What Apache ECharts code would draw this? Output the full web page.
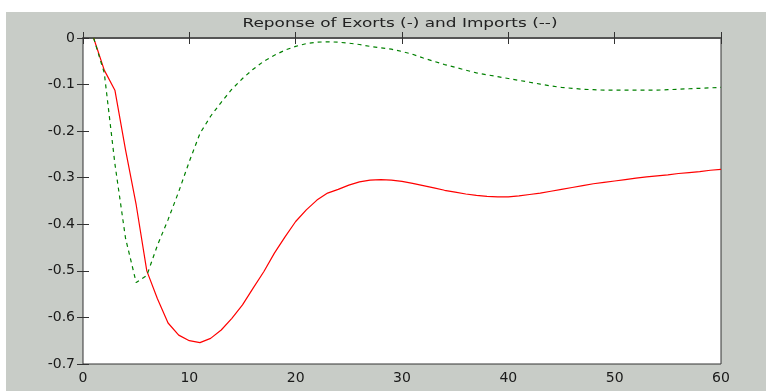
<!DOCTYPE html>
<html>
<head>
<meta charset="utf-8">
<script src="https://cdn.jsdelivr.net/npm/echarts@6/dist/echarts.min.js"></script>
<style>
  html, body { margin: 0; padding: 0; background: #fff; }
  #chart { width: 766px; height: 391px; }
</style>
</head>
<body>
<div id="chart"></div>
<script>
// horizon (periods)
const periods = [];
for (let i = 1; i <= 60; i++) periods.push(i);

// response of exports (solid red)
const exportsResp = [
  0, -0.069, -0.112, -0.240, -0.358, -0.500, -0.560, -0.612, -0.638, -0.650,
  -0.654, -0.645, -0.627, -0.602, -0.573, -0.537, -0.502, -0.462, -0.427, -0.394,
  -0.369, -0.348, -0.333, -0.325, -0.316, -0.309, -0.305, -0.304, -0.305, -0.308,
  -0.312, -0.317, -0.322, -0.327, -0.331, -0.335, -0.338, -0.340, -0.341, -0.341,
  -0.339, -0.336, -0.333, -0.329, -0.325, -0.321, -0.317, -0.313, -0.310, -0.307,
  -0.304, -0.301, -0.298, -0.296, -0.294, -0.291, -0.289, -0.287, -0.284, -0.282
];

// response of imports (dashed green)
const importsResp = [
  0, -0.075, -0.270, -0.430, -0.525, -0.510, -0.445, -0.390, -0.330, -0.265,
  -0.205, -0.168, -0.138, -0.110, -0.087, -0.067, -0.050, -0.037, -0.026, -0.018,
  -0.012, -0.009, -0.008, -0.009, -0.011, -0.014, -0.018, -0.021, -0.024, -0.029,
  -0.035, -0.043, -0.050, -0.057, -0.063, -0.069, -0.075, -0.079, -0.083, -0.087,
  -0.091, -0.095, -0.099, -0.103, -0.106, -0.108, -0.110, -0.111, -0.112, -0.112,
  -0.112, -0.112, -0.112, -0.112, -0.111, -0.110, -0.109, -0.108, -0.107, -0.106
];

const titleText = 'Reponse of Exorts (-) and Imports (--)';

const chart = echarts.init(document.getElementById('chart'));

const labelFont = { color: '#1a1a1a', fontSize: 14, fontFamily: 'DejaVu Sans, sans-serif' };
const tick = { show: true, inside: true, length: 6, lineStyle: { color: '#333' } };

const option = {
  backgroundColor: '#ffffff',
  animation: false,
  graphic: [{
    type: 'rect',
    z: -10,
    silent: true,
    shape: { x: 6, y: 12, width: 760, height: 379 },
    style: { fill: '#c8ccc7' }
  }, {
    // title, stretched a little like the original bitmap font
    type: 'text',
    x: 400,
    y: 24,
    scaleX: 1.3,
    silent: true,
    style: {
      text: titleText,
      fill: '#222',
      font: '13px "DejaVu Sans", sans-serif',
      textAlign: 'center',
      textVerticalAlign: 'middle'
    }
  }],
  grid: {
    left: 83, right: 45, top: 38, bottom: 27,
    show: true,
    backgroundColor: '#ffffff',
    borderColor: '#333',
    borderWidth: 1
  },
  xAxis: [{
    type: 'value', min: 0, max: 60, interval: 10,
    axisLine: { show: true, lineStyle: { color: '#555', width: 2 } },
    axisTick: tick,
    splitLine: { show: false },
    axisLabel: Object.assign({ margin: 7 }, labelFont)
  }, {
    type: 'value', position: 'top', min: 0, max: 60, interval: 10,
    axisLine: { show: false },
    axisTick: tick,
    splitLine: { show: false },
    axisLabel: { show: false }
  }],
  yAxis: [{
    type: 'value', min: -0.7, max: 0, interval: 0.1,
    axisLine: { show: false },
    axisTick: tick,
    splitLine: { show: false },
    axisLabel: Object.assign({ margin: 8, formatter: v => (Math.abs(v) < 1e-9 ? '0' : v.toFixed(1)) }, labelFont)
  }, {
    type: 'value', position: 'right', min: -0.7, max: 0, interval: 0.1,
    axisLine: { show: false },
    axisTick: tick,
    splitLine: { show: false },
    axisLabel: { show: false }
  }],
  series: [{
    name: 'Exports',
    type: 'line',
    data: periods.map((p, i) => [p, exportsResp[i]]),
    showSymbol: false,
    lineStyle: { color: '#ff0000', width: 1.2 }
  }, {
    name: 'Imports',
    type: 'line',
    data: periods.map((p, i) => [p, importsResp[i]]),
    showSymbol: false,
    lineStyle: { color: '#008000', width: 1.2, type: [4, 4] }
  }]
};

chart.setOption(option);
</script>
</body>
</html>
